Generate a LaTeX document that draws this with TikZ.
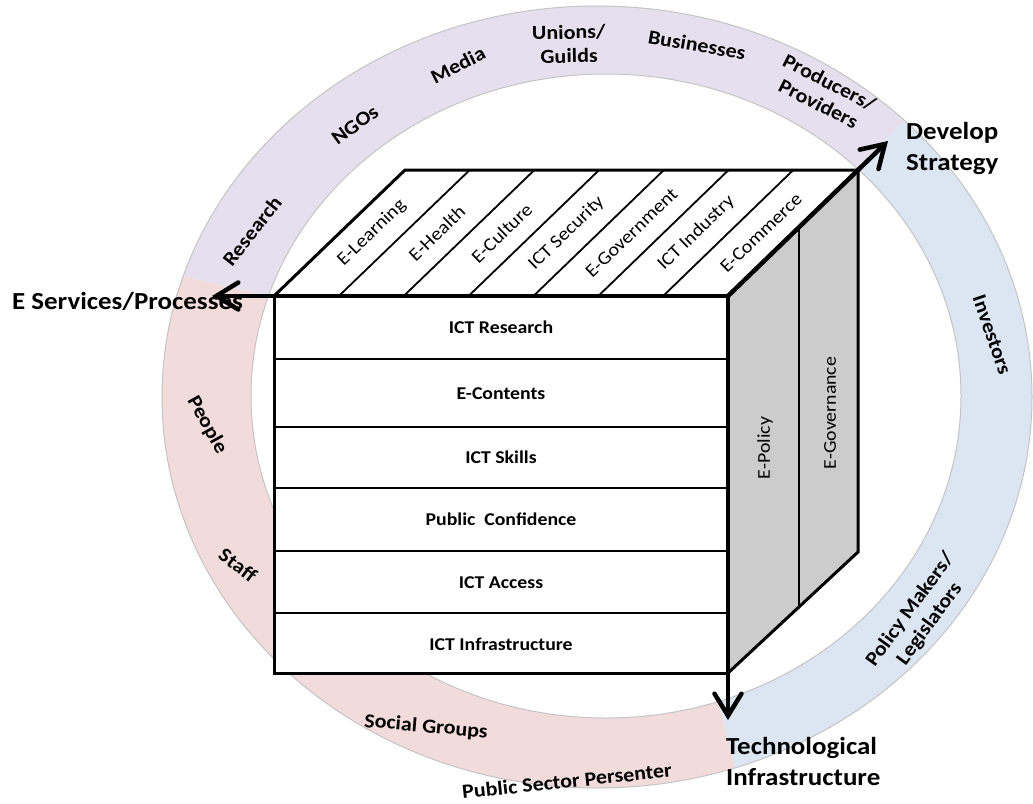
\documentclass[tikz,border=0pt]{standalone}
\usepackage{fontspec}
\setmainfont{Carlito}[FakeStretch=1.1]
\usetikzlibrary{arrows.meta,calc}

\definecolor{bandpurple}{HTML}{E6E0EE}
\definecolor{bandpink}{HTML}{F2DCDB}
\definecolor{bandblue}{HTML}{DCE6F2}
\definecolor{sidegray}{HTML}{CCCCCC}
\definecolor{bandrim}{HTML}{C4C4C4}

\begin{document}
\begin{tikzpicture}[x=1pt,y=-1pt,
  ringlabel/.style={font=\fontsize{20}{24}\selectfont\bfseries, align=center, inner sep=0pt},
  axislabel/.style={font=\fontsize{24.5}{30.5}\selectfont\bfseries, align=left, inner sep=0pt},
  rowlabel/.style={font=\fontsize{18}{20}\selectfont\bfseries, inner sep=0pt, anchor=base},
  striplabel/.style={font=\fontsize{18.5}{20}\selectfont, inner sep=0pt, rotate=44},
  sidelabel/.style={font=\fontsize{18}{20}\selectfont, inner sep=0pt, rotate=90},
  bandline/.style={draw=bandrim, line width=1pt},
  heavyedge/.style={line width=3pt, line join=miter},
  thinedge/.style={line width=2pt},
  axisarrow/.style={line width=4.5pt, line cap=round,
    -{Straight Barb[length=22pt,width=27pt,line cap=round]}},
]
\useasboundingbox (0,0) rectangle (1033,803);

% ---- stakeholder ring ----
\coordinate (Co) at (597,397);
\coordinate (Ci) at (606,396);

\fill[bandpurple] ($(Co)+(-45:435 and 391)$)
  arc[start angle=-45,end angle=-162,x radius=435,y radius=391]
  -- ($(Ci)+(-162:355 and 322)$)
  arc[start angle=-162,end angle=-45,x radius=355,y radius=322] -- cycle;
\fill[bandpink] ($(Co)+(-162:435 and 391)$)
  arc[start angle=-162,end angle=-288.5,x radius=435,y radius=391]
  -- ($(Ci)+(-288.5:355 and 322)$)
  arc[start angle=-288.5,end angle=-162,x radius=355,y radius=322] -- cycle;
\fill[bandblue] ($(Co)+(-288.5:435 and 391)$)
  arc[start angle=-288.5,end angle=-405,x radius=435,y radius=391]
  -- ($(Ci)+(-405:355 and 322)$)
  arc[start angle=-405,end angle=-288.5,x radius=355,y radius=322] -- cycle;
\draw[bandline] (Co) ellipse[x radius=435,y radius=391];
\draw[bandline] (Ci) ellipse[x radius=355,y radius=322];

% ring labels
\node[ringlabel, rotate=52]  (research) at (252,231) {Research};
\node[ringlabel, rotate=36]  (ngos)     at (355,125) {NGOs};
\node[ringlabel, rotate=27]  (media)    at (458,65)  {Media};
\node[ringlabel, rotate=1]   (unions)   at (569,44)  {Unions/\\Guilds};
\node[ringlabel, rotate=-10] (business) at (697,45)  {Businesses};
\node[ringlabel, rotate=-27] (producer) at (824,93)  {Producers/\\Providers};
\node[ringlabel, rotate=-71] (investor) at (992,335) {Investors};
\node[ringlabel, rotate=54]  (policy)   at (920,617) {Policy Makers/\\Legislators};
\node[ringlabel, rotate=6]   (pubsect)  at (567,781) {Public Sector Persenter};
\node[ringlabel, rotate=-5]  (social)   at (426,727) {Social Groups};
\node[ringlabel, rotate=-37] (staff)    at (238,565) {Staff};
\node[ringlabel, rotate=-61] (people)   at (207,425) {People};

% ---- cube ----
\coordinate (A)  at (274,296);
\coordinate (B)  at (728,296);
\coordinate (Cb) at (274,673);
\coordinate (Db) at (728,673);
\coordinate (E)  at (405,170);
\coordinate (F)  at (858,170);
\coordinate (G)  at (858,552);

% side face
\filldraw[fill=sidegray, heavyedge] (B) -- (F) -- (G) -- (Db) -- cycle;
\draw[line width=2.2pt] ($(B)!0.546!(F)$) -- ($(Db)!0.546!(G)$);
\node[sidelabel] (epolicy) at (765,448) {E-Policy};
\node[sidelabel] (egov)    at (830,413) {E-Governance};

% top face with seven strips
\filldraw[fill=white, heavyedge] (A) -- (B) -- (F) -- (E) -- cycle;
\foreach \i in {1,...,6}
  \draw[line width=1.8pt] ($(A)!\i/7!(B)$) -- ($(E)!\i/7!(F)$);
\foreach \t [count=\k from 0] in {E-Learning,E-Health,E-Culture,ICT Security,E-Government,ICT Industry,E-Commerce}
  \node[striplabel] (strip\k) at ({339.5+(\k+0.5)*64.86},233) {\t};

% front face with six layers
\filldraw[fill=white, heavyedge] (A) rectangle (Db);
\foreach \y in {359,427,488,551,613}
  \draw[thinedge] (274,\y) -- (728,\y);
\node[rowlabel] (r1) at (501,333.5) {ICT Research};
\node[rowlabel] (r2) at (501,399)   {E-Contents};
\node[rowlabel] (r3) at (501,463.5) {ICT Skills};
\node[rowlabel] (r4) at (501,525.5) {Public~ Confidence};
\node[rowlabel] (r5) at (501,588)   {ICT Access};
\node[rowlabel] (r6) at (501,650)   {ICT Infrastructure};

% ---- axes from the front corner ----
% (a multi-line node sits on the baseline of its last line)
\node[axislabel, anchor=base west] (eserv) at (12,309) {E Services/Processes};
\node[axislabel, anchor=base west] (devel) at (906,170) {Develop\\Strategy};
\node[axislabel, anchor=base west] (techn) at (726,785) {Technological\\Infrastructure};

\coordinate (Wtip)  at (212,296);
\coordinate (NEtip) at (888,141);
\coordinate (Stip)  at (728,720);
\draw[axisarrow] (B) -- (Wtip);
\draw[axisarrow] (B) -- (NEtip);
\draw[axisarrow] (B) -- (Stip);
\end{tikzpicture}
\end{document}
